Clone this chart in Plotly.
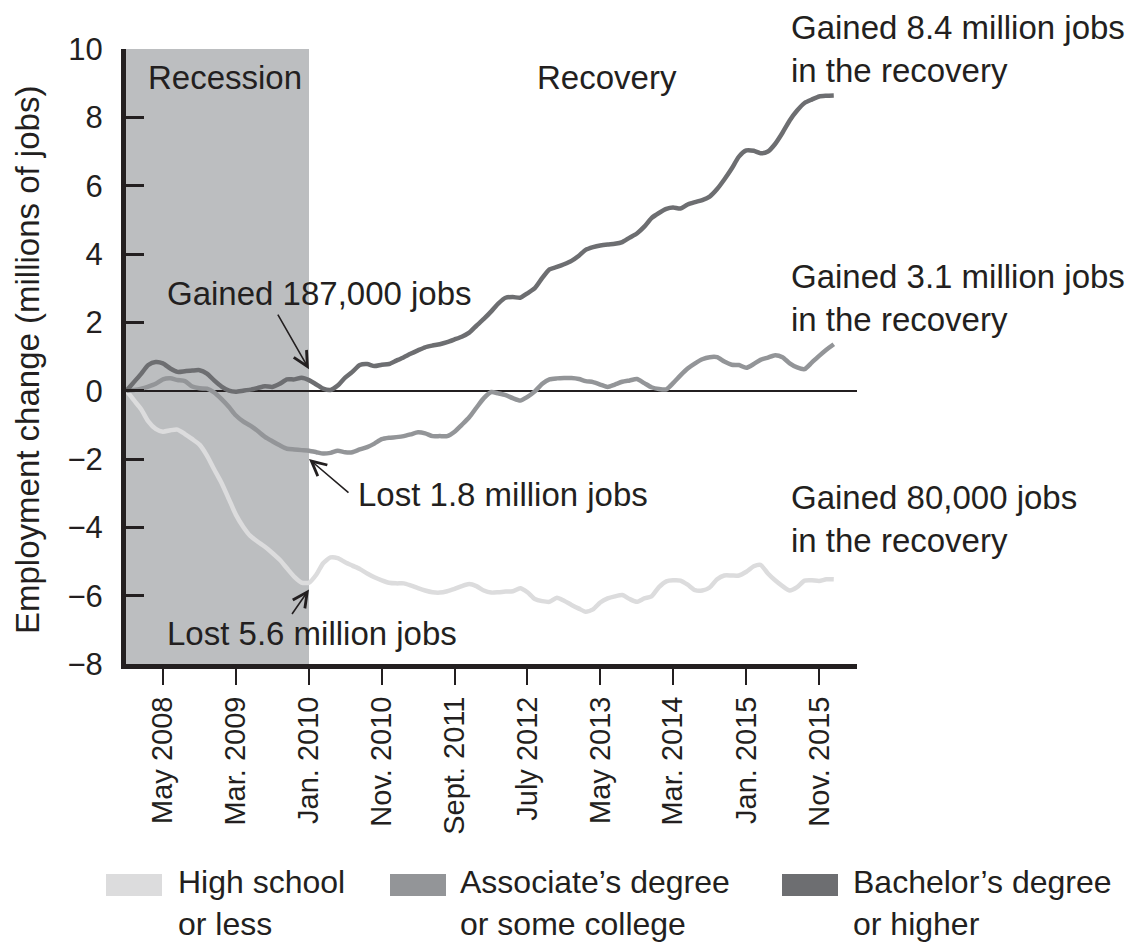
import pandas as pd
import plotly.graph_objects as go

# ---------------- data (millions of jobs, monthly from Dec 2007 to Jan 2016) ----------------
start_month = "2007-12-01"
high_school = [
    0.00, -0.28, -0.55, -0.90, -1.12, -1.20, -1.16, -1.14, -1.27, -1.42,
    -1.58, -1.90, -2.30, -2.70, -3.18, -3.62, -3.98, -4.25, -4.42, -4.57,
    -4.75, -4.95, -5.20, -5.45, -5.62, -5.62, -5.38, -5.05, -4.88, -4.90,
    -5.02, -5.12, -5.22, -5.35, -5.46, -5.55, -5.62, -5.64, -5.64, -5.70,
    -5.78, -5.85, -5.90, -5.91, -5.87, -5.80, -5.72, -5.66, -5.72, -5.85,
    -5.91, -5.90, -5.88, -5.87, -5.78, -5.90, -6.10, -6.16, -6.18, -6.06,
    -6.15, -6.27, -6.38, -6.47, -6.40, -6.20, -6.08, -6.02, -5.98, -6.10,
    -6.18, -6.08, -6.02, -5.75, -5.58, -5.55, -5.56, -5.68, -5.84, -5.85,
    -5.76, -5.52, -5.41, -5.41, -5.41, -5.30, -5.14, -5.10, -5.35, -5.55,
    -5.72, -5.85, -5.75, -5.56, -5.55, -5.57, -5.52, -5.52,
]
associate = [
    0.00, 0.02, 0.06, 0.12, 0.20, 0.33, 0.36, 0.31, 0.28, 0.12,
    0.07, 0.06, -0.05, -0.25, -0.48, -0.72, -0.90, -1.02, -1.18, -1.35,
    -1.48, -1.60, -1.70, -1.72, -1.74, -1.76, -1.80, -1.84, -1.82, -1.76,
    -1.80, -1.80, -1.72, -1.65, -1.55, -1.42, -1.38, -1.36, -1.33, -1.28,
    -1.22, -1.25, -1.33, -1.33, -1.33, -1.20, -1.00, -0.78, -0.50, -0.22,
    -0.04, -0.08, -0.13, -0.22, -0.29, -0.18, -0.02, 0.20, 0.33, 0.36,
    0.37, 0.37, 0.34, 0.28, 0.25, 0.18, 0.11, 0.18, 0.26, 0.30,
    0.34, 0.22, 0.10, 0.05, 0.04, 0.22, 0.45, 0.65, 0.80, 0.92,
    0.98, 0.98, 0.85, 0.76, 0.75, 0.67, 0.78, 0.90, 0.97, 1.04,
    0.98, 0.80, 0.68, 0.63, 0.82, 1.02, 1.20, 1.36,
]
bachelor = [
    0.00, 0.25, 0.50, 0.75, 0.84, 0.80, 0.65, 0.55, 0.57, 0.59,
    0.60, 0.50, 0.30, 0.12, 0.00, -0.03, 0.00, 0.03, 0.08, 0.13,
    0.11, 0.20, 0.33, 0.33, 0.38, 0.31, 0.18, 0.06, 0.02, 0.15,
    0.38, 0.55, 0.75, 0.78, 0.72, 0.76, 0.78, 0.88, 0.98, 1.08,
    1.18, 1.27, 1.32, 1.36, 1.42, 1.50, 1.58, 1.70, 1.90, 2.10,
    2.32, 2.55, 2.72, 2.74, 2.72, 2.85, 3.00, 3.30, 3.55, 3.62,
    3.70, 3.80, 3.95, 4.12, 4.20, 4.25, 4.28, 4.30, 4.35, 4.48,
    4.60, 4.80, 5.05, 5.20, 5.32, 5.36, 5.33, 5.45, 5.52, 5.58,
    5.68, 5.90, 6.18, 6.50, 6.85, 7.03, 7.02, 6.95, 7.00, 7.22,
    7.55, 7.91, 8.20, 8.42, 8.52, 8.61, 8.63, 8.64,
]
series_names = ["High school<br>or less", "Associate\u2019s degree<br>or some college",
                "Bachelor\u2019s degree<br>or higher"]
tick_dates = ["2008-05-01", "2009-03-01", "2010-01-01", "2010-11-01", "2011-09-01",
              "2012-07-01", "2013-05-01", "2014-03-01", "2015-01-01", "2015-11-01"]
tick_labels = ["May 2008", "Mar. 2009", "Jan. 2010", "Nov. 2010", "Sept. 2011",
               "July 2012", "May 2013", "Mar. 2014", "Jan. 2015", "Nov. 2015"]
recession_end = "2010-01-01"
y_ticks = [-8, -6, -4, -2, 0, 2, 4, 6, 8, 10]

months = pd.date_range(start_month, periods=len(bachelor), freq="MS")

# ---------------- styling / layout geometry ----------------
FONT = "Liberation Sans, Arial, Helvetica, sans-serif"
INK = "#231f20"
colors = ["#dcdcdd", "#939598", "#6d6e71"]
SHADE = "#bcbec0"
OFF = 8                      # page body margin
W, H = 1142 - OFF, 946 - OFF
PL, PR, PT, PB = 126, 857, 49, 664   # plot box in page pixels
L, T = PL - OFF, PT - OFF
R, B = W - (PR - OFF), H - (PB - OFF)
PW, PH = PR - PL, PB - PT


def px(x):
    return (x - PL) / PW


def py(y):
    return (PB - y) / PH


fig = go.Figure()
for vals, name, col in zip([high_school, associate, bachelor], series_names, colors):
    fig.add_trace(go.Scatter(x=months, y=vals, mode="lines", name=name,
                             line=dict(color=col, width=4.5, shape="spline", smoothing=0.6),
                             showlegend=False))

x_range = ["2007-11-29", "2016-04-07"]

shapes = [
    dict(type="rect", xref="x", yref="y", x0=x_range[0], x1=recession_end, y0=-8, y1=10,
         fillcolor=SHADE, line=dict(width=0), layer="below"),
]

TXT = 33
annotations = [
    dict(text="Recession", x=px(146), y=py(78), xanchor="left", yanchor="middle"),
    dict(text="Recovery", x=px(607), y=py(77), xanchor="center", yanchor="middle"),
    dict(text="Gained 8.4 million jobs<br>in the recovery", x=px(789), y=py(49),
         xanchor="left", yanchor="middle", align="left"),
    dict(text="Gained 3.1 million jobs<br>in the recovery", x=px(789), y=py(298),
         xanchor="left", yanchor="middle", align="left"),
    dict(text="Gained 80,000 jobs<br>in the recovery", x=px(789), y=py(519),
         xanchor="left", yanchor="middle", align="left"),
    dict(text="Gained 187,000 jobs", x=px(165), y=py(293), xanchor="left", yanchor="middle"),
    dict(text="Lost 1.8 million jobs", x=px(356), y=py(494), xanchor="left", yanchor="middle"),
    dict(text="Lost 5.6 million jobs", x=px(165), y=py(633), xanchor="left", yanchor="middle"),
    dict(text="Employment change (millions of jobs)", x=px(28), y=py(360), textangle=-90,
         xanchor="center", yanchor="middle"),
]
for a in annotations:
    a.update(xref="paper", yref="paper", showarrow=False,
             font=dict(family=FONT, size=TXT, color=INK))

# arrows pointing at the Jan. 2010 values
arrows = [
    (recession_end, 0.63, -32, -56),
    (recession_end, -2.0, 41, 35),
    (recession_end, -5.82, -18, 26),
]
for xa, ya, ax, ay in arrows:
    annotations.append(dict(x=xa, y=ya, xref="x", yref="y", text="", showarrow=True,
                            ax=ax, ay=ay, arrowhead=5, arrowsize=1.8, arrowwidth=1.6,
                            arrowcolor=INK))

# manual legend
legend_items = [(106, 176), (390, 458), (782, 851)]
for (sx, tx), name, col in zip(legend_items, series_names, colors):
    shapes.append(dict(type="rect", xref="paper", yref="paper", x0=px(sx), x1=px(sx + 56),
                       y0=py(896), y1=py(874), fillcolor=col, line=dict(width=0)))
    annotations.append(dict(text=name, x=px(tx), y=py(903), xref="paper", yref="paper",
                            xanchor="left", yanchor="middle", align="left", showarrow=False,
                            font=dict(family=FONT, size=32, color=INK)))

fig.update_layout(
    width=W, height=H,
    margin=dict(l=L, r=R, t=T, b=B, autoexpand=False),
    paper_bgcolor="white", plot_bgcolor="white",
    font=dict(family=FONT, color=INK),
    shapes=shapes, annotations=annotations,
    showlegend=False,
)
fig.update_xaxes(type="date", range=x_range, tickvals=tick_dates, ticktext=tick_labels,
                 tickangle=-90, tickfont=dict(size=29, family=FONT, color=INK),
                 ticks="outside", ticklen=16, tickwidth=2, tickcolor=INK,
                 showline=True, linewidth=5, linecolor=INK, showgrid=False, zeroline=False)
fig.update_yaxes(range=[-8, 10], tickvals=y_ticks,
                 tickfont=dict(size=31, family=FONT, color=INK),
                 ticks="inside", ticklen=18, tickwidth=2.5, tickcolor=INK,
                 ticklabelstandoff=12,
                 showline=True, linewidth=5, linecolor=INK, showgrid=False,
                 zeroline=True, zerolinecolor=INK, zerolinewidth=1.5)

fig.write_html("out.html")
